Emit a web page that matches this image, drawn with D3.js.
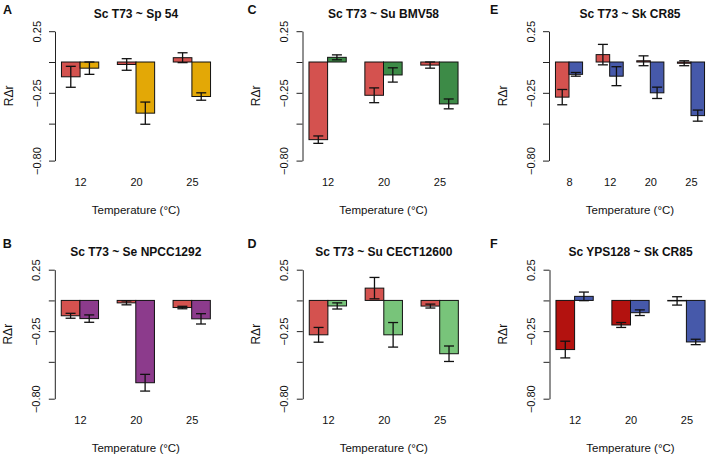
<!DOCTYPE html>
<html>
<head>
<meta charset="utf-8">
<script src="https://cdn.jsdelivr.net/npm/d3@7"></script>
<style>
  html, body { margin: 0; padding: 0; background: #fff; }
  svg { display: block; font-family: "Liberation Sans", Arial, Helvetica, sans-serif; }
</style>
</head>
<body>
<svg id="chart" width="708" height="457"></svg>
<script>
// ---------------- DATA ----------------
const panelLetters = ["A", "B", "C", "D", "E", "F"];
const panelTitles = [
  "Sc T73 ~ Sp 54",
  "Sc T73 ~ Se NPCC1292",
  "Sc T73 ~ Su BMV58",
  "Sc T73 ~ Su CECT12600",
  "Sc T73 ~ Sk CR85",
  "Sc YPS128 ~ Sk CR85"
];
const temps3 = ["12", "20", "25"];
const temps4 = ["8", "12", "20", "25"];
const yTickValues = [0.25, 0, -0.25, -0.5, -0.8];
const yTickLabels = [0.25, -0.25, -0.8];
const xAxisTitle = "Temperature (°C)";
const yAxisTitle = "RΔr";

// series 1 (first bar of each pair) and series 2 (second bar), means and error half-widths
const meanA1 = [-0.12, -0.02, 0.035];   const errA1 = [0.085, 0.047, 0.04];
const meanA2 = [-0.05, -0.415, -0.28];  const errA2 = [0.05, 0.09, 0.03];
const meanB1 = [-0.125, -0.02, -0.058]; const errB1 = [0.02, 0.016, 0.01];
const meanB2 = [-0.148, -0.67, -0.15];  const errB2 = [0.03, 0.068, 0.042];
const meanC1 = [-0.63, -0.27, -0.025];  const errC1 = [0.03, 0.06, 0.025];
const meanC2 = [0.038, -0.105, -0.34];  const errC2 = [0.02, 0.058, 0.04];
const meanD1 = [-0.28, 0.1, -0.046];    const errD1 = [0.06, 0.087, 0.016];
const meanD2 = [-0.045, -0.28, -0.434]; const errD2 = [0.025, 0.1, 0.063];
const meanE1 = [-0.285, 0.06, 0.01, -0.01];   const errE1 = [0.062, 0.083, 0.04, 0.02];
const meanE2 = [-0.1, -0.115, -0.25, -0.435]; const errE2 = [0.015, 0.077, 0.046, 0.045];
const meanF1 = [-0.4, -0.2, -0.004];    const errF1 = [0.068, 0.02, 0.034];
const meanF2 = [0.033, -0.1, -0.338];   const errF2 = [0.035, 0.023, 0.022];

// ---------------- STYLE / LAYOUT ----------------
const colRed = "#D4524F", colYellow = "#E3A806", colDarkGreen = "#3D8B47",
      colPurple = "#8C3B8C", colLightGreen = "#78C47A", colBlue = "#4659AA",
      colDarkRed = "#B3120F";

const panels = [
  { cats: temps3, m1: meanA1, e1: errA1, m2: meanA2, e2: errA2, c1: colRed, c2: colYellow,
    plotLeft: 55.5, row: 0, letterX: 3 },
  { cats: temps3, m1: meanB1, e1: errB1, m2: meanB2, e2: errB2, c1: colRed, c2: colPurple,
    plotLeft: 55.3, row: 1, letterX: 2.7 },
  { cats: temps3, m1: meanC1, e1: errC1, m2: meanC2, e2: errC2, c1: colRed, c2: colDarkGreen,
    plotLeft: 303, row: 0, letterX: 247.5 },
  { cats: temps3, m1: meanD1, e1: errD1, m2: meanD2, e2: errD2, c1: colRed, c2: colLightGreen,
    plotLeft: 303.3, row: 1, letterX: 247.5 },
  { cats: temps4, m1: meanE1, e1: errE1, m2: meanE2, e2: errE2, c1: colRed, c2: colBlue,
    plotLeft: 549.5, row: 0, letterX: 490 },
  { cats: temps3, m1: meanF1, e1: errF1, m2: meanF2, e2: errF2, c1: colDarkRed, c2: colBlue,
    plotLeft: 550, row: 1, letterX: 490 }
];
const rows = [
  { yRange: [160.6, 31.2], letterY: 13.5, titleY: 18.3, xLabY: 182.5, xTitleY: 210 },
  { yRange: [398.7, 269.7], letterY: 247.5, titleY: 256, xLabY: 420.5, xTitleY: 448 }
];
const plotW = 161;

const svg = d3.select("#chart");

panels.forEach((p, i) => {
  const r = rows[p.row];
  const n = p.cats.length;
  const span = 3 * n - 1;
  const x = d3.scaleLinear()
    .domain([1 - 0.04 * span, 3 * n + 0.04 * span])
    .range([p.plotLeft, p.plotLeft + plotW]);
  const y = d3.scaleLinear().domain([-0.8, 0.25]).range(r.yRange);

  const g = svg.append("g");

  // bars
  const bars = [];
  p.cats.forEach((c, j) => {
    bars.push({ u0: 3 * j + 1, v: p.m1[j], e: p.e1[j], col: p.c1 });
    bars.push({ u0: 3 * j + 2, v: p.m2[j], e: p.e2[j], col: p.c2 });
  });
  g.selectAll("rect.bar").data(bars).enter().append("rect")
    .attr("class", "bar")
    .attr("x", d => x(d.u0))
    .attr("width", d => x(d.u0 + 1) - x(d.u0))
    .attr("y", d => Math.min(y(0), y(d.v)))
    .attr("height", d => Math.abs(y(d.v) - y(0)))
    .attr("fill", d => d.col)
    .attr("stroke", "#111")
    .attr("stroke-width", 1);

  // error bars
  const eb = g.selectAll("g.err").data(bars).enter().append("g").attr("class", "err")
    .attr("stroke", "#111").attr("stroke-width", 1.3).attr("fill", "none");
  eb.append("line")
    .attr("x1", d => x(d.u0 + 0.5)).attr("x2", d => x(d.u0 + 0.5))
    .attr("y1", d => y(d.v + d.e)).attr("y2", d => y(d.v - d.e));
  eb.append("line")
    .attr("x1", d => x(d.u0 + 0.5) - 5).attr("x2", d => x(d.u0 + 0.5) + 5)
    .attr("y1", d => y(d.v + d.e)).attr("y2", d => y(d.v + d.e));
  eb.append("line")
    .attr("x1", d => x(d.u0 + 0.5) - 5).attr("x2", d => x(d.u0 + 0.5) + 5)
    .attr("y1", d => y(d.v - d.e)).attr("y2", d => y(d.v - d.e));

  // y axis
  const fmt = d3.format(".2f");
  const yAxis = d3.axisLeft(y).tickValues(yTickValues).tickSize(6).tickSizeOuter(0)
    .tickFormat(v => yTickLabels.some(t => Math.abs(t - v) < 1e-9) ? fmt(v) : "");
  const ya = g.append("g").attr("transform", `translate(${p.plotLeft - 0.5},0)`).call(yAxis);
  ya.select(".domain").attr("stroke", "#222");
  ya.selectAll(".tick line").attr("stroke", "#222");
  ya.selectAll(".tick text")
    .attr("x", null).attr("dy", null)
    .attr("transform", "translate(-18.5,0) rotate(-90)")
    .attr("text-anchor", "middle")
    .attr("dominant-baseline", "central")
    .attr("font-size", 11)
    .attr("font-family", "Liberation Sans, Arial, sans-serif")
    .attr("fill", "#111");

  // x category labels
  const xAxis = d3.axisBottom(x).tickValues(p.cats.map((c, j) => 3 * j + 2)).tickSize(0)
    .tickFormat((v, j) => p.cats[j]);
  const xa = g.append("g").attr("transform", `translate(0,${r.xLabY})`).call(xAxis);
  xa.select(".domain").remove();
  xa.selectAll(".tick text")
    .attr("y", 0).attr("dy", "0.35em")
    .attr("font-size", 11)
    .attr("font-family", "Liberation Sans, Arial, sans-serif")
    .attr("fill", "#111");

  // x axis title
  g.append("text")
    .attr("x", p.plotLeft + plotW / 2).attr("y", r.xTitleY).attr("dy", "0.35em")
    .attr("text-anchor", "middle").attr("font-size", 11.5).attr("fill", "#111")
    .text(xAxisTitle);

  // y axis title
  const yMid = (r.yRange[0] + r.yRange[1]) / 2;
  g.append("text")
    .attr("transform", `translate(${p.plotLeft - 47},${yMid}) rotate(-90)`)
    .attr("text-anchor", "middle").attr("dominant-baseline", "central")
    .attr("font-size", 12).attr("fill", "#111")
    .text(yAxisTitle);

  // title
  g.append("text")
    .attr("x", p.plotLeft + plotW / 2).attr("y", r.titleY)
    .attr("text-anchor", "middle").attr("font-size", 12).attr("font-weight", "bold")
    .attr("fill", "#111")
    .text(panelTitles[i]);

  // panel letter
  g.append("text")
    .attr("x", p.letterX).attr("y", r.letterY)
    .attr("font-size", 12.5).attr("font-weight", "bold").attr("fill", "#111")
    .text(panelLetters[i]);
});
</script>
</body>
</html>
